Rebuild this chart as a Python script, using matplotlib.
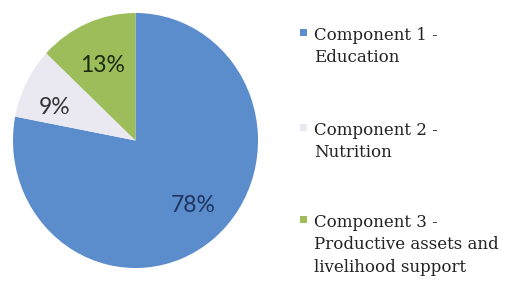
import matplotlib.pyplot as plt
from matplotlib.patches import Rectangle

# Share of spending by component
components = ['Component 1 -\nEducation',
              'Component 2 -\nNutrition',
              'Component 3 -\nProductive assets and\nlivelihood support']
shares = [78, 9, 13]
colors = ['#5b8ccc', '#eae8f0', '#9dbd5b']
label_colors = ['#1f3560', '#333333', '#1c2a10']

W, H = 510, 285
fig = plt.figure(figsize=(W / 100, H / 100), dpi=100)

# pie slightly taller than wide, like the reference
cx, cy, rx, ry = 135.5, 140.5, 122.5, 127.5
ax = fig.add_axes([(cx - rx) / W, (H - cy - ry) / H, 2 * rx / W, 2 * ry / H])
wedges, texts = ax.pie(shares, colors=colors, startangle=90, counterclock=False,
                       radius=1.0)
ax.set_xlim(-1, 1)
ax.set_ylim(-1, 1)
ax.set_aspect('auto')

# percentage labels
label_pos = [(0.47, -0.51), (-0.66, 0.26), (-0.27, 0.59)]
for (x, y), s, c in zip(label_pos, shares, label_colors):
    ax.text(x, y, f'{s}%', ha='center', va='center', fontsize=16.5,
            family='Lato', color=c)

# legend drawn by hand so the square sits on the first line
legend_y = [37, 132, 224]
for lab, col, y in zip(components, colors, legend_y):
    fig.patches.append(Rectangle((300 / W, (H - y + 1) / H), 7 / W, 7 / H,
                                 transform=fig.transFigure, facecolor=col,
                                 edgecolor='none'))
    fig.text(314 / W, (H - y + 10) / H, lab, ha='left', va='top',
             fontsize=12, family='DejaVu Serif', color='#222222',
             linespacing=1.42)

fig.savefig('out.png', dpi=100)
